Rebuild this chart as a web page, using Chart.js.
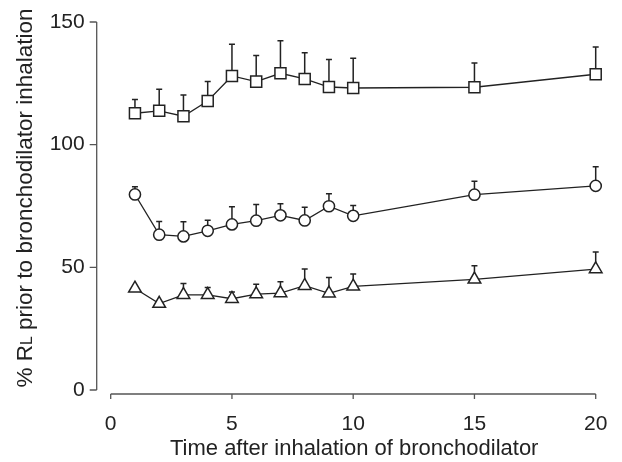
<!DOCTYPE html>
<html>
<head>
<meta charset="utf-8">
<script src="https://cdn.jsdelivr.net/npm/chart.js@4.4.1/dist/chart.umd.min.js"></script>
<style>
  html, body { margin: 0; padding: 0; background: #fff; }
  #wrap { width: 622px; height: 462px; }
</style>
</head>
<body>
<div id="wrap"><canvas id="c" width="622" height="462"></canvas></div>
<script>
// Time points (x axis)
const times = [1, 2, 3, 4, 5, 6, 7, 8, 9, 10, 15, 20];

// Square series: mean and upper error
const squareMean = [112.8, 113.8, 111.6, 117.8, 128.0, 125.7, 129.1, 126.8, 123.5, 123.1, 123.4, 128.7];
const squareErr  = [5.6, 8.8, 8.6, 7.9, 12.9, 10.6, 13.3, 10.7, 11.2, 12.1, 9.9, 11.1];

// Circle series
const circleMean = [79.7, 63.3, 62.6, 64.9, 67.5, 69.0, 71.2, 69.1, 74.9, 71.0, 79.6, 83.2];
const circleErr  = [3.1, 5.4, 6.0, 4.3, 7.2, 6.6, 4.7, 5.4, 5.1, 4.2, 5.5, 7.8];

// Triangle series
const triMean = [41.4, 35.2, 38.8, 38.8, 37.2, 39.1, 39.5, 42.5, 39.4, 42.2, 45.1, 49.3];
const triErr  = [0, 0, 4.6, 3.0, 2.7, 4.0, 4.6, 6.8, 6.5, 5.1, 5.5, 7.0];

// Axis ticks
const xTicks = [0, 5, 10, 15, 20];
const yTicks = [0, 50, 100, 150];

const FONT = "'Liberation Sans', Arial, sans-serif";
const INK = '#222';
const AXIS = '#555';

const toPoints = (ys) => times.map((t, i) => ({ x: t, y: ys[i] }));

function series(ys, errs, style, radius) {
  return {
    data: toPoints(ys),
    errs: errs,
    borderColor: INK,
    borderWidth: 1.3,
    pointStyle: style,
    pointRadius: radius,
    pointBackgroundColor: '#fff',
    pointBorderColor: INK,
    pointBorderWidth: 1.5,
    tension: 0,
    clip: false
  };
}

// Upward-only error bars drawn beneath the lines and markers
const errorBars = {
  id: 'errorBars',
  beforeDatasetsDraw(chart) {
    const ctx = chart.ctx;
    const ys = chart.scales.y;
    ctx.save();
    ctx.strokeStyle = INK;
    ctx.lineWidth = 1.5;
    chart.data.datasets.forEach((ds, di) => {
      const meta = chart.getDatasetMeta(di);
      meta.data.forEach((pt, i) => {
        const e = ds.errs[i];
        if (!e) return;
        const top = ys.getPixelForValue(ds.data[i].y + e);
        ctx.beginPath();
        ctx.moveTo(pt.x, pt.y);
        ctx.lineTo(pt.x, top);
        ctx.moveTo(pt.x - 3, top);
        ctx.lineTo(pt.x + 3, top);
        ctx.stroke();
      });
    });
    ctx.restore();
  }
};

// Detached axis lines with outward ticks, plus the axis titles
const axes = {
  id: 'axes',
  afterDraw(chart) {
    const ctx = chart.ctx;
    const xs = chart.scales.x, ys = chart.scales.y;
    ctx.save();
    ctx.strokeStyle = AXIS;
    ctx.lineWidth = 1.3;

    // y axis
    const ax = xs.getPixelForValue(0) - 14;
    ctx.beginPath();
    ctx.moveTo(ax, ys.getPixelForValue(150));
    ctx.lineTo(ax, ys.getPixelForValue(0));
    yTicks.forEach(v => {
      const p = ys.getPixelForValue(v);
      ctx.moveTo(ax - 7, p);
      ctx.lineTo(ax, p);
    });
    ctx.stroke();

    // x axis
    const ay = ys.getPixelForValue(0) + 4;
    ctx.beginPath();
    ctx.moveTo(xs.getPixelForValue(0), ay);
    ctx.lineTo(xs.getPixelForValue(20), ay);
    xTicks.forEach(v => {
      const p = xs.getPixelForValue(v);
      ctx.moveTo(p, ay);
      ctx.lineTo(p, ay + 5);
    });
    ctx.stroke();

    // x title
    ctx.fillStyle = INK;
    ctx.font = '22px ' + FONT;
    ctx.textAlign = 'center';
    ctx.textBaseline = 'alphabetic';
    ctx.fillText('Time after inhalation of bronchodilator', (xs.getPixelForValue(0) + xs.getPixelForValue(20)) / 2 + 1, 455);

    // y title, with the small-caps L subscript
    ctx.translate(32, 198);
    ctx.rotate(-Math.PI / 2);
    const big = '22.5px ' + FONT, small = '16px ' + FONT;
    const parts = [['% R', big], ['L', small], [' prior to bronchodilator inhalation', big]];
    let total = 0;
    parts.forEach(([t, f]) => { ctx.font = f; total += ctx.measureText(t).width; });
    let x0 = -total / 2;
    ctx.textAlign = 'left';
    parts.forEach(([t, f]) => {
      ctx.font = f;
      ctx.fillText(t, x0, 0);
      x0 += ctx.measureText(t).width;
    });
    ctx.restore();
  }
};

new Chart(document.getElementById('c'), {
  type: 'line',
  data: {
    datasets: [
      series(squareMean, squareErr, 'rect', 7.8),
      series(circleMean, circleErr, 'circle', 5.6),
      series(triMean, triErr, 'triangle', 7.3)
    ]
  },
  options: {
    responsive: false,
    animation: false,
    layout: { padding: { top: 22, right: 26.3, left: 0, bottom: 0 } },
    plugins: { legend: { display: false }, tooltip: { enabled: false } },
    scales: {
      x: {
        type: 'linear', min: 0, max: 20,
        afterBuildTicks(s) { s.ticks = xTicks.map(v => ({ value: v })); },
        grid: { display: false, drawTicks: false },
        border: { display: false },
        ticks: {
          padding: 22, color: INK,
          font: { family: FONT, size: 21 },
          maxRotation: 0
        },
        afterFit(s) { s.height = 72; s.paddingLeft = 0; s.paddingRight = 0; }
      },
      y: {
        type: 'linear', min: 0, max: 150,
        afterBuildTicks(s) { s.ticks = yTicks.map(v => ({ value: v })); },
        grid: { display: false, drawTicks: false },
        border: { display: false },
        ticks: {
          padding: 26, color: INK,
          font: { family: FONT, size: 21 }
        },
        afterFit(s) { s.width = 110.7; s.paddingTop = 0; s.paddingBottom = 0; }
      }
    }
  },
  plugins: [errorBars, axes]
});
</script>
</body>
</html>
